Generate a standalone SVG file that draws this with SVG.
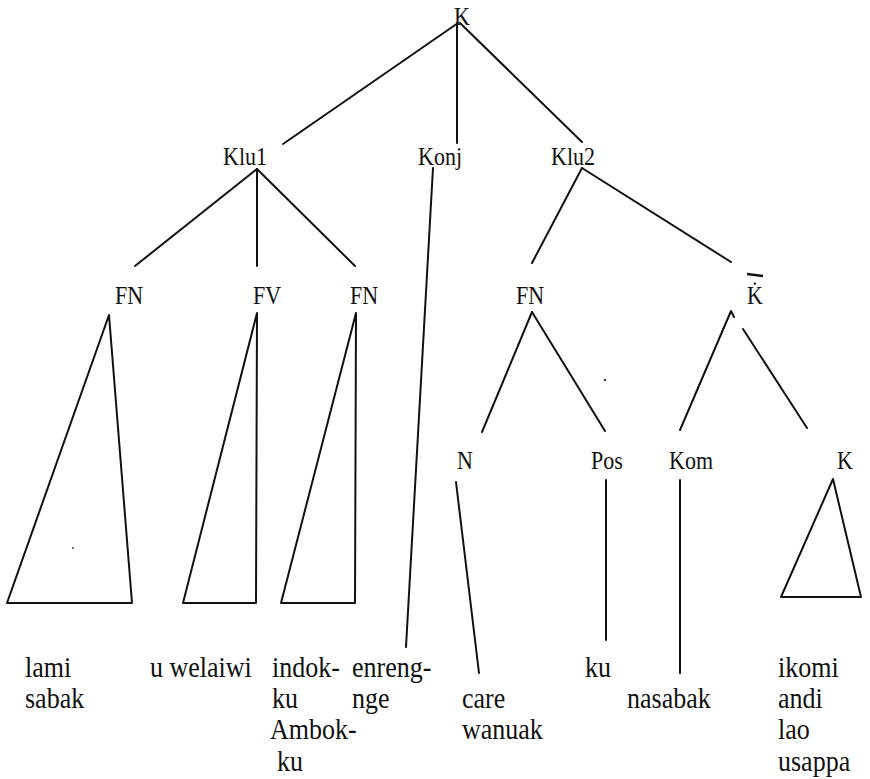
<svg xmlns="http://www.w3.org/2000/svg" width="870" height="779" viewBox="0 0 870 779">
  <style>
    .lbl { font-family: "Liberation Serif", "Times New Roman", serif; font-size: 22px; fill: #111; text-anchor: middle; }
    .leaf { font-family: "Liberation Serif", "Times New Roman", serif; font-size: 26px; fill: #111; }
    .edge { stroke: #111; stroke-width: 2; fill: none; stroke-linecap: round; stroke-linejoin: round; }
    .speck { fill: #444; }
  </style>
  <rect width="870" height="779" fill="#ffffff"/>

  <!-- connectors: branches, roofs and unary lines -->
  <g id="connectors" class="edge">
    <!-- K -->
    <line x1="458" y1="23" x2="283" y2="144"/>
    <line x1="457" y1="23" x2="457" y2="143"/>
    <line x1="460" y1="23" x2="582" y2="142"/>
    <!-- Klu1 -->
    <line x1="257" y1="169" x2="135" y2="266"/>
    <line x1="257" y1="169" x2="257" y2="266"/>
    <line x1="257" y1="169" x2="355" y2="266"/>
    <!-- Konj -->
    <line x1="433" y1="168" x2="406" y2="647"/>
    <!-- Klu2 -->
    <line x1="582" y1="168" x2="532" y2="263"/>
    <line x1="582" y1="168" x2="731" y2="262"/>
    <!-- roofs over the phrases -->
    <polygon points="109,315 7,603 132,603"/>
    <polygon points="257,313 183,603 256,603"/>
    <polygon points="356,313 281,603 355,603"/>
    <!-- FN under Klu2 -->
    <line x1="532" y1="312" x2="482" y2="432"/>
    <line x1="532" y1="312" x2="605" y2="431"/>
    <!-- K-bar -->
    <polyline points="680,430 731,311 734,317"/>
    <line x1="743" y1="329" x2="807" y2="428"/>
    <!-- terminals -->
    <line x1="456" y1="482" x2="479" y2="673"/>
    <line x1="606" y1="480" x2="606" y2="640"/>
    <line x1="680" y1="480" x2="680" y2="673"/>
    <polygon points="833,479 781,597 861,597"/>
  </g>

  <!-- category labels -->
  <g id="node-K"><text class="lbl" transform="translate(462,25) scale(1,1.12)">K</text></g>
  <g id="node-Klu1"><text class="lbl" transform="translate(245,165) scale(1,1.12)">Klu1</text></g>
  <g id="node-Konj"><text class="lbl" transform="translate(440,165) scale(1,1.12)">Konj</text></g>
  <g id="node-Klu2"><text class="lbl" transform="translate(573,165) scale(1,1.12)">Klu2</text></g>
  <g id="node-FN1"><text class="lbl" transform="translate(129,304) scale(1,1.12)">FN</text></g>
  <g id="node-FV"><text class="lbl" transform="translate(267,304) scale(1,1.12)">FV</text></g>
  <g id="node-FN2"><text class="lbl" transform="translate(364,304) scale(1,1.12)">FN</text></g>
  <g id="node-FN3"><text class="lbl" transform="translate(530,304) scale(1,1.12)">FN</text></g>
  <g id="node-Kbar">
    <line x1="747" y1="274" x2="763" y2="276" stroke="#111" stroke-width="2.5"/>
    <text class="lbl" transform="translate(755,304) scale(1,1.12)">K&#x307;</text>
  </g>
  <g id="node-N"><text class="lbl" transform="translate(465,469) scale(1,1.12)">N</text></g>
  <g id="node-Pos"><text class="lbl" transform="translate(607,469) scale(1,1.12)">Pos</text></g>
  <g id="node-Kom"><text class="lbl" transform="translate(691,469) scale(1,1.12)">Kom</text></g>
  <g id="node-K2"><text class="lbl" transform="translate(845,469) scale(1,1.12)">K</text></g>

  <!-- leaf words (slightly tall serif) -->
  <g id="leaf-lami-sabak" class="leaf">
    <text transform="translate(25,677) scale(1,1.1)">lami</text>
    <text transform="translate(25,708) scale(1,1.1)">sabak</text>
  </g>
  <g id="leaf-uwelaiwi" class="leaf">
    <text transform="translate(150,677) scale(1,1.1)">u welaiwi</text>
  </g>
  <g id="leaf-indokku" class="leaf">
    <text transform="translate(272,677) scale(1,1.1)">indok-</text>
    <text transform="translate(272,708) scale(1,1.1)">ku</text>
    <text transform="translate(270,739) scale(1,1.1)">Ambok-</text>
    <text transform="translate(277,771) scale(1,1.1)">ku</text>
  </g>
  <g id="leaf-enrengnge" class="leaf">
    <text transform="translate(352,677) scale(1,1.1)">enreng-</text>
    <text transform="translate(352,708) scale(1,1.1)">nge</text>
  </g>
  <g id="leaf-care" class="leaf">
    <text transform="translate(462,708) scale(1,1.1)">care</text>
    <text transform="translate(462,739) scale(1,1.1)">wanuak</text>
  </g>
  <g id="leaf-ku" class="leaf">
    <text transform="translate(585,677) scale(1,1.1)">ku</text>
  </g>
  <g id="leaf-nasabak" class="leaf">
    <text transform="translate(627,708) scale(1,1.1)">nasabak</text>
  </g>
  <g id="leaf-ikomi" class="leaf">
    <text transform="translate(778,677) scale(1,1.1)">ikomi</text>
    <text transform="translate(778,708) scale(1,1.1)">andi</text>
    <text transform="translate(778,739) scale(1,1.1)">lao</text>
    <text transform="translate(778,771) scale(1,1.1)">usappa</text>
  </g>

  <!-- small marks on the page -->
  <circle class="speck" cx="605" cy="380" r="1.3"/>
  <circle class="speck" cx="73" cy="548" r="1"/>
</svg>
